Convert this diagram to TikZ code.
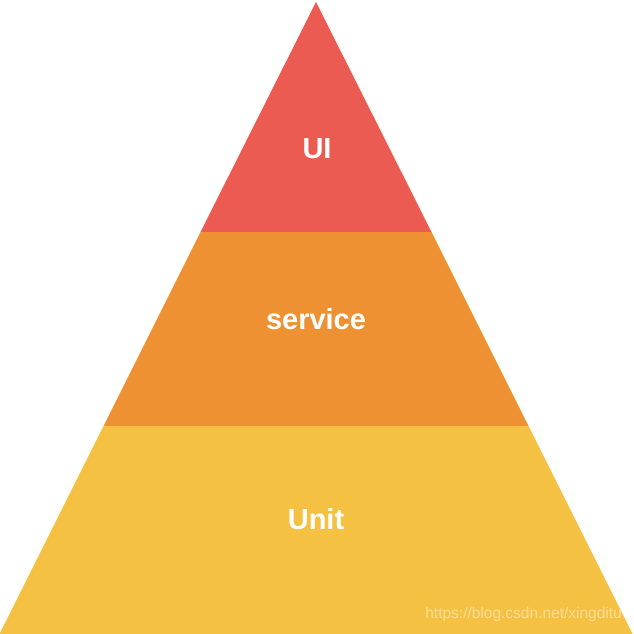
\documentclass[tikz,border=0pt]{standalone}
\usepackage{fontspec}
\setmainfont{Liberation Sans}
\definecolor{cui}{HTML}{EC5B52}
\definecolor{csvc}{HTML}{EE9133}
\definecolor{cunit}{HTML}{F5C142}
\begin{document}
\begin{tikzpicture}[x=1pt,y=-1pt,
  lbl/.style={text=white,font=\bfseries\fontsize{29}{32}\selectfont,anchor=center,inner sep=0pt},
  wm/.style={text=white,opacity=0.45,font=\fontsize{15.5}{18}\selectfont,anchor=east,inner sep=0pt}]
\useasboundingbox (0,0) rectangle (633,634);
\fill[cui] (316,2) -- (431.5,232) -- (200.5,232) -- cycle;
\fill[csvc] (200.5,232) -- (431.5,232) -- (528.5,426) -- (103.5,426) -- cycle;
\fill[cunit] (103.5,426) -- (528.5,426) -- (632.5,634) -- (-0.5,634) -- cycle;
\node[lbl] (ui) at (317,149) {UI};
\node[lbl] (svc) at (316,319.5) {service};
\node[lbl] (unit) at (316,519) {Unit};
\node[wm] (url) at (622,614) {https://blog.csdn.net/xingditu};
\end{tikzpicture}
\end{document}
